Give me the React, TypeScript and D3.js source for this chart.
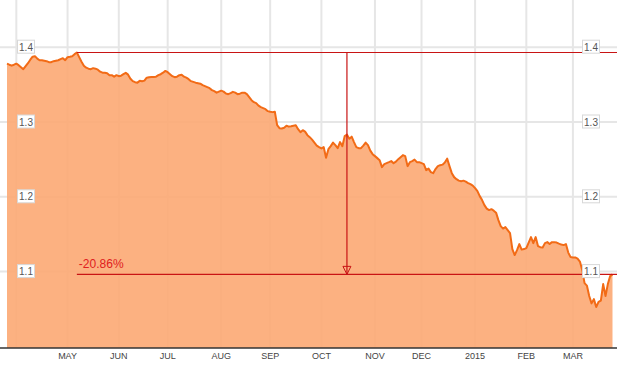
import React from "react";
import * as d3 from "d3";

// Daily (weekday) closing values, starting 2014-03-26
const values: number[] = [
  1.3780, 1.3766, 1.3753, 1.3766, 1.3780, 1.3760, 1.3733, 1.3706, 1.3746, 1.3786,
  1.3833, 1.3873, 1.3880, 1.3847, 1.3826, 1.3826, 1.3820, 1.3813, 1.3800, 1.3800,
  1.3813, 1.3820, 1.3826, 1.3840, 1.3853, 1.3826, 1.3867, 1.3873, 1.3880, 1.3907,
  1.3929, 1.3867, 1.3806, 1.3753, 1.3726, 1.3713, 1.3706, 1.3720, 1.3713, 1.3700,
  1.3673, 1.3659, 1.3659, 1.3653, 1.3626, 1.3626, 1.3606, 1.3626, 1.3613, 1.3619,
  1.3639, 1.3657, 1.3633, 1.3579, 1.3546, 1.3532, 1.3526, 1.3550, 1.3546, 1.3553,
  1.3593, 1.3599, 1.3603, 1.3603, 1.3606, 1.3626, 1.3639, 1.3659, 1.3683, 1.3666,
  1.3639, 1.3613, 1.3599, 1.3606, 1.3626, 1.3633, 1.3606, 1.3593, 1.3573, 1.3546,
  1.3536, 1.3526, 1.3519, 1.3512, 1.3492, 1.3479, 1.3466, 1.3452, 1.3426, 1.3412,
  1.3392, 1.3406, 1.3419, 1.3406, 1.3381, 1.3372, 1.3385, 1.3403, 1.3392, 1.3372,
  1.3379, 1.3392, 1.3392, 1.3372, 1.3332, 1.3292, 1.3265, 1.3252, 1.3218, 1.3198,
  1.3185, 1.3172, 1.3145, 1.3136, 1.3132, 1.3138, 1.2958, 1.2918, 1.2914, 1.2924,
  1.2951, 1.2938, 1.2944, 1.2951, 1.2958, 1.2904, 1.2864, 1.2891, 1.2871, 1.2824,
  1.2797, 1.2764, 1.2724, 1.2684, 1.2664, 1.2646, 1.2664, 1.2523, 1.2637, 1.2677,
  1.2724, 1.2691, 1.2650, 1.2731, 1.2677, 1.2811, 1.2831, 1.2777, 1.2804, 1.2731,
  1.2664, 1.2650, 1.2650, 1.2684, 1.2724, 1.2691, 1.2617, 1.2570, 1.2544, 1.2517,
  1.2490, 1.2397, 1.2437, 1.2450, 1.2463, 1.2477, 1.2450, 1.2470, 1.2503, 1.2530,
  1.2557, 1.2544, 1.2410, 1.2463, 1.2477, 1.2497, 1.2463, 1.2463, 1.2450, 1.2437,
  1.2356, 1.2377, 1.2330, 1.2316, 1.2370, 1.2410, 1.2423, 1.2430, 1.2457, 1.2510,
  1.2410, 1.2316, 1.2263, 1.2236, 1.2216, 1.2209, 1.2216, 1.2203, 1.2183, 1.2169,
  1.2149, 1.2116, 1.2076, 1.2009, 1.1956, 1.1889, 1.1842, 1.1822, 1.1835, 1.1815,
  1.1788, 1.1688, 1.1608, 1.1575, 1.1595, 1.1555, 1.1515, 1.1301, 1.1221, 1.1287,
  1.1368, 1.1294, 1.1301, 1.1314, 1.1388, 1.1461, 1.1381, 1.1461, 1.1341, 1.1327,
  1.1323, 1.1381, 1.1394, 1.1368, 1.1394, 1.1394, 1.1388, 1.1374, 1.1361, 1.1354,
  1.1368, 1.1254, 1.1194, 1.1190, 1.1190, 1.1174, 1.1134, 1.1020, 1.0846, 1.0813,
  1.0673, 1.0575, 1.0632, 1.0526, 1.0596, 1.0612, 1.0833, 1.0673, 1.0833, 1.0940,
  1.0963,
];

const startDate = new Date(Date.UTC(2014, 2, 26));
// Month labels for month starts Apr 2014 .. Mar 2015 (April is unlabeled)
const monthLabels: string[] = ["", "MAY", "JUN", "JUL", "AUG", "SEP", "OCT", "NOV", "DEC", "2015", "FEB", "MAR"];
const yTicks: number[] = [1.1, 1.2, 1.3, 1.4];
const changeLabel = "-20.86%";

function weekdays(start: Date, n: number): Date[] {
  const out: Date[] = [];
  const d = new Date(start.getTime());
  while (out.length < n) {
    const wd = d.getUTCDay();
    if (wd !== 0 && wd !== 6) out.push(new Date(d.getTime()));
    d.setUTCDate(d.getUTCDate() + 1);
  }
  return out;
}

export default function App() {
  const W = 632;
  const H = 365;
  const baseY = 348;
  const rightEdge = 617;
  const dates = weekdays(startDate, values.length);

  const x = d3.scaleLinear().domain([0, values.length - 1]).range([7, 612.5]);
  const y = d3.scaleLinear().domain([1.1, 1.4]).range([271.6, 47.2]);

  // month start indices
  const monthStarts: number[] = [];
  for (let i = 1; i < dates.length; i++) {
    if (dates[i].getUTCMonth() !== dates[i - 1].getUTCMonth()) monthStarts.push(i);
  }

  const area = d3
    .area<number>()
    .x((_, i) => x(i))
    .y0(baseY)
    .y1((d) => y(d));
  const line = d3
    .line<number>()
    .x((_, i) => x(i))
    .y((d) => y(d));

  const peakIdx = d3.maxIndex(values);
  const peakX = x(peakIdx);
  const peakY = y(values[peakIdx]);
  const lastY = y(values[values.length - 1]);
  const midX = (peakX + rightEdge) / 2;

  const grid = "#e6e6e6";
  const red = "#c81414";
  const font = "'Liberation Sans', Arial, sans-serif";

  return (
    <svg width={W} height={H} style={{ position: "absolute", left: 0, top: 0, background: "#fff" }}>
      {/* gridlines */}
      {yTicks.map((t) => (
        <line key={"h" + t} x1={0} x2={rightEdge} y1={y(t)} y2={y(t)} stroke={grid} strokeWidth={2} />
      ))}
      {monthStarts.map((i) => (
        <line key={"v" + i} x1={x(i)} x2={x(i)} y1={0} y2={baseY} stroke={grid} strokeWidth={2} />
      ))}

      {/* area + line */}
      <path d={area(values) || ""} fill="#fca873" fillOpacity={0.9} />
      <path d={line(values) || ""} fill="none" stroke="#f26b16" strokeWidth={2} strokeLinejoin="round" />

      {/* axis */}
      <line x1={0} x2={rightEdge} y1={baseY} y2={baseY} stroke="#333" strokeWidth={1.5} />
      {monthStarts.map((i, k) =>
        monthLabels[k] ? (
          <text key={"m" + i} x={x(i)} y={359} textAnchor="middle" fontSize={9} fill="#444" fontFamily={font}>
            {monthLabels[k]}
          </text>
        ) : null
      )}

      {/* change annotation */}
      <line x1={peakX} x2={rightEdge} y1={peakY} y2={peakY} stroke={red} strokeWidth={1.2} />
      <line x1={peakX} x2={rightEdge} y1={lastY} y2={lastY} stroke={red} strokeWidth={1.2} />
      <line x1={midX} x2={midX} y1={peakY} y2={lastY} stroke={red} strokeWidth={1.2} />
      <path
        d={`M${midX - 4},${lastY - 8} L${midX + 4},${lastY - 8} L${midX},${lastY} Z`}
        fill="none"
        stroke={red}
        strokeWidth={1}
      />
      <text x={peakX + 2} y={lastY - 6} fontSize={12} fill="#e02020" fontFamily={font}>
        {changeLabel}
      </text>

      {/* y labels */}
      {yTicks.map((t) => (
        <g key={"l" + t}>
          <rect x={17.5} y={y(t) - 7} width={17} height={13} fill="#fff" stroke="#d8d8d8" />
          <text x={26} y={y(t) + 3.5} textAnchor="middle" fontSize={10} fill="#555" fontFamily={font}>
            {d3.format(".1f")(t)}
          </text>
          <rect x={582.5} y={y(t) - 7} width={17} height={13} fill="#fff" stroke="#d8d8d8" />
          <text x={591} y={y(t) + 3.5} textAnchor="middle" fontSize={10} fill="#555" fontFamily={font}>
            {d3.format(".1f")(t)}
          </text>
        </g>
      ))}
    </svg>
  );
}
